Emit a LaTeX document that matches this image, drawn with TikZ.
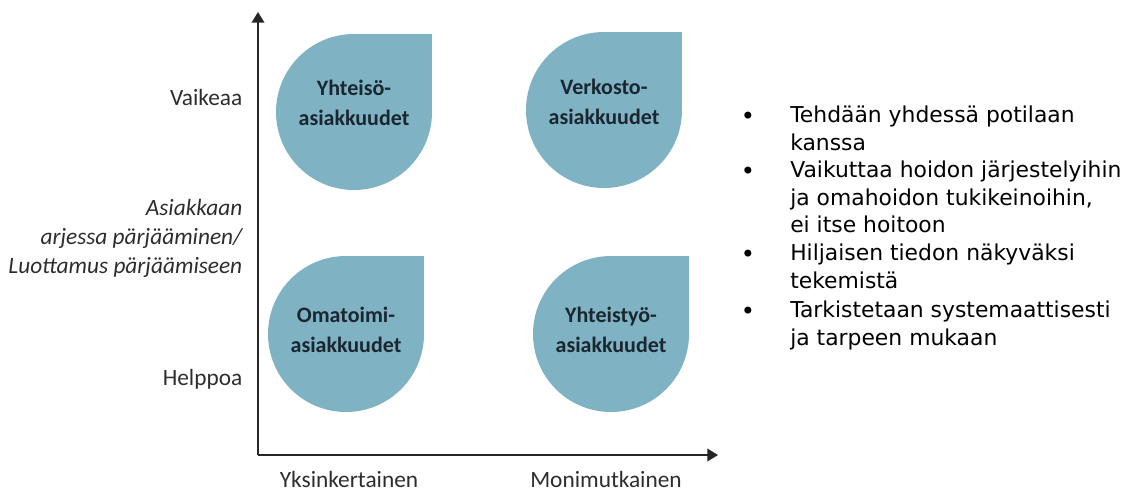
\documentclass[tikz,border=0pt]{standalone}
\usepackage{fontspec}
\setmainfont{Carlito}
\newfontfamily\listfont{DejaVu Sans}
\usetikzlibrary{arrows.meta}

\definecolor{dropblue}{RGB}{127,179,196}
\definecolor{droptext}{RGB}{26,38,48}
\definecolor{axistext}{RGB}{45,45,45}

\begin{document}
\begin{tikzpicture}[x=0.75pt,y=-0.75pt,
	axis/.style={line width=1.1pt,draw=black!85,-{Triangle[width=9.5pt,length=8pt]}},
	droplabel/.style={font=\fontsize{16.5}{22.5}\selectfont\bfseries,text=droptext,align=center},
	scalelabel/.style={font=\fontsize{17.5}{21.75}\selectfont,text=axistext},
	scaletitle/.style={font=\fontsize{17.5}{21.75}\selectfont\itshape,text=axistext,align=right,anchor=east},
	itemdot/.style={font=\listfont\fontsize{18}{18}\selectfont,inner sep=0pt},
	itemtext/.style={font=\listfont\fontsize{16.4}{20.6}\selectfont,align=left,anchor=north west,inner sep=0pt}]
	\useasboundingbox (0,0) rectangle (1128,493);

	% axes
	\coordinate (o) at (258,455);
	\coordinate (ytop) at (258,12);
	\coordinate (xend) at (718,455);
	\draw[axis] (o) -- (ytop);
	\draw[axis] (o) -- (xend);

	% the four customer groups
	\foreach \cx/\cy/\dy/\nm/\txt in {354/112/9/yhteiso/{Yhteisö-\\asiakkuudet},
		604/110/8/verkosto/{Verkosto-\\asiakkuudet},
		346/334/4/omatoimi/{Omatoimi-\\asiakkuudet},
		611/334/4/yhteistyo/{Yhteistyö-\\asiakkuudet}} {
		\fill[dropblue] (\cx,\cy) circle (78);
		\fill[dropblue] (\cx,\cy) rectangle (\cx+78,\cy-78);
		\node[droplabel] (\nm) at (\cx,\cy-\dy) {\txt};
	}

	\node[scalelabel,anchor=east] (vaikea) at (247,97) {Vaikeaa};
	\node[scalelabel,anchor=east] (helppo) at (247,379) {Helppoa};
	\node[scaletitle] (arki) at (247,238) {Asiakkaan\\arjessa pärjääminen/\\Luottamus pärjäämiseen};
	\node[scalelabel,anchor=base,inner sep=0pt] (yksin) at (349,487) {Yksinkertainen};
	\node[scalelabel,anchor=base,inner sep=0pt] (moni) at (606,487) {Monimutkainen};

	% bullet list on the right
	\foreach \y/\nm/\txt in {115/tehdaan/{Tehdään yhdessä potilaan\\kanssa},
		170/vaikuttaa/{Vaikuttaa hoidon järjestelyihin\\ja omahoidon tukikeinoihin,\\ei itse hoitoon},
		253/hiljainen/{Hiljaisen tiedon näkyväksi\\tekemistä},
		310/tarkistus/{Tarkistetaan systemaattisesti\\ja tarpeen mukaan}} {
		\node[itemdot] (\nm dot) at (748,\y+3) {\textbullet};
		\node[itemtext] (\nm) at (790,\y-9) {\txt};
	}
\end{tikzpicture}
\end{document}
